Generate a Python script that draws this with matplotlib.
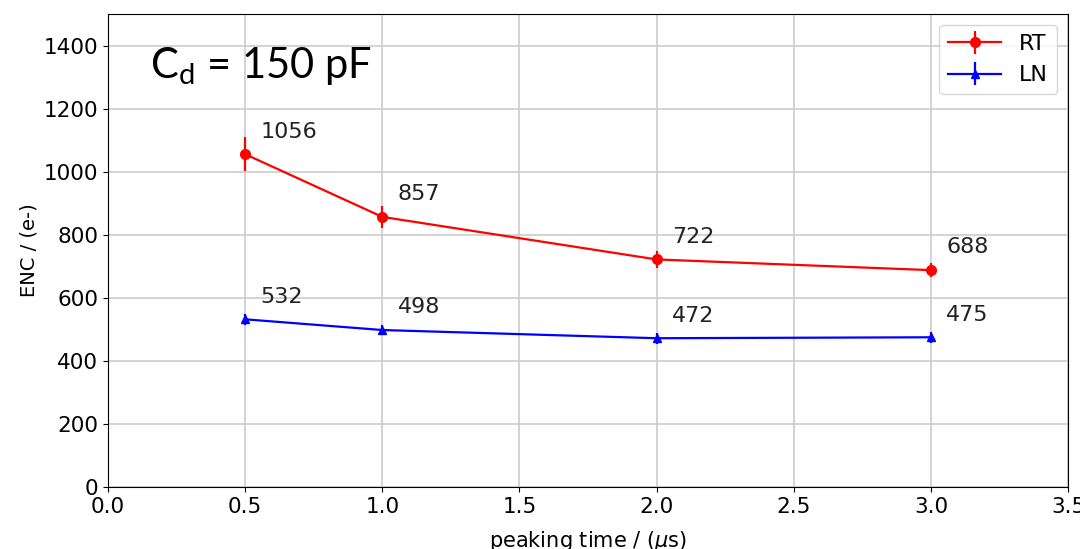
import numpy as np
import matplotlib
matplotlib.use('Agg')
import matplotlib.pyplot as plt

# 数据
t = [0.5, 1.0, 2.0, 3.0]
rt = [1056, 857, 722, 688]
rt_err = [54, 35, 28, 22]
ln = [532, 498, 472, 475]
ln_err = [18, 16, 18, 18]

plt.rcParams['font.family'] = 'DejaVu Sans'
plt.rcParams['mathtext.fontset'] = 'custom'
plt.rcParams['mathtext.rm'] = 'Lato'
plt.rcParams['mathtext.it'] = 'DejaVu Sans:italic'
plt.rcParams['mathtext.bf'] = 'DejaVu Sans:bold'

fig = plt.figure(figsize=(10.8, 5.49), dpi=100)
ax = fig.add_axes([0.1, 0.113, 0.889, 0.861])

ax.errorbar(t, rt, yerr=rt_err, color='red', marker='o', markersize=7, linewidth=1.6, label='RT')
ax.errorbar(t, ln, yerr=ln_err, color='blue', marker='^', markersize=6, linewidth=1.6, label='LN')

# 标注数值
for x, y in zip(t, rt):
    ax.annotate(str(y), (x, y), xytext=(11, 12), textcoords='offset points', fontsize=16, color='#222222')
for x, y in zip(t, ln):
    ax.annotate(str(y), (x, y), xytext=(11, 12), textcoords='offset points', fontsize=16, color='#222222')

ax.set_xlim(0, 3.5)
ax.set_ylim(0, 1500)
ax.set_yticks(np.arange(0, 1401, 200))
ax.set_xlabel(r'peaking time / ($\mu$s)', fontsize=15, labelpad=9)
ax.set_ylabel('ENC / (e-)', fontsize=14)
ax.tick_params(labelsize=15.5)
ax.grid(color='#cccccc', linewidth=1.2)
ax.legend(loc='upper right', fontsize=16, handlelength=2.4)

fig.text(0.139, 0.88, r'C$_\mathrm{d}$ = 150 pF', fontsize=30, family='Lato', va='center')

plt.savefig('out.png', dpi=100)
